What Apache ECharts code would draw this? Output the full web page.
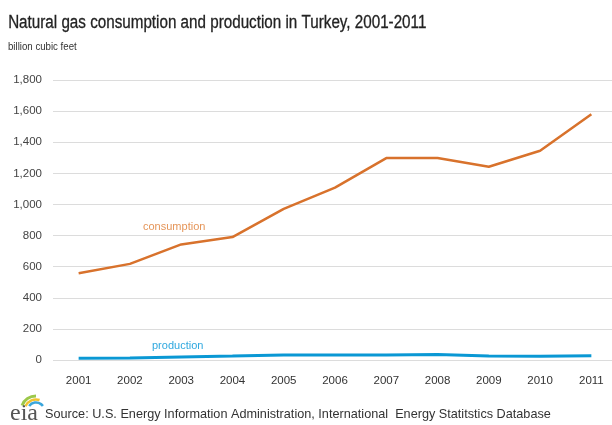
<!DOCTYPE html>
<html>
<head>
<meta charset="utf-8">
<script src="https://cdn.jsdelivr.net/npm/echarts@6/dist/echarts.min.js"></script>
<style>
  html, body { margin: 0; padding: 0; background: #fff; }
  #chart { width: 612px; height: 425px; }
</style>
</head>
<body>
<div id="chart"></div>
<script>
// Turkey natural gas, billion cubic feet
const years = ['2001','2002','2003','2004','2005','2006','2007','2008','2009','2010','2011'];
const consumption = [558, 618, 743, 790, 972, 1108, 1298, 1298, 1242, 1345, 1580];
const production = [12, 13, 20, 25, 32, 32, 32, 36, 25, 24, 27];
const yTicks = [0, 200, 400, 600, 800, 1000, 1200, 1400, 1600, 1800];

const FONT = '"Liberation Sans", Arial, sans-serif';
const chart = echarts.init(document.getElementById('chart'));

chart.setOption({
  backgroundColor: '#ffffff',
  animation: false,
  grid: { left: 53, width: 564, top: 80, bottom: 65, containLabel: false, outerBoundsMode: 'none' },
  xAxis: {
    type: 'category',
    data: years,
    boundaryGap: true,
    axisLine: { show: false },
    axisTick: { show: false },
    axisLabel: { fontFamily: FONT, fontSize: 11.5, color: '#333', margin: 15 }
  },
  yAxis: {
    type: 'value',
    min: yTicks[0], max: yTicks[yTicks.length - 1], interval: 200,
    axisLine: { show: false },
    axisTick: { show: false },
    axisLabel: {
      fontFamily: FONT, fontSize: 11.5, color: '#444', margin: 11,
      formatter: v => v.toLocaleString('en-US')
    },
    splitLine: { lineStyle: { color: '#dcdcdc', width: 1 } }
  },
  series: [
    {
      name: 'consumption',
      type: 'line',
      data: consumption,
      symbol: 'none',
      lineStyle: { color: '#d8722c', width: 2.5 },
      z: 3
    },
    {
      name: 'production',
      type: 'line',
      data: production,
      symbol: 'none',
      lineStyle: { color: '#0a98d4', width: 3 },
      z: 3
    }
  ],
  graphic: [
    // narrow-set headings
    { type: 'text', left: 8, top: 14, scaleX: 0.845,
      style: { text: 'Natural gas consumption and production in Turkey, 2001-2011',
               font: '18px ' + FONT, fill: '#222', stroke: '#222', lineWidth: 0.3 } },
    { type: 'text', left: 8, top: 42, scaleX: 0.92,
      style: { text: 'billion cubic feet', font: '10.5px ' + FONT, fill: '#333' } },
    // in-plot series labels
    { type: 'text', left: 143, top: 221,
      style: { text: 'consumption', font: '11px ' + FONT, fill: '#e59559' } },
    { type: 'text', left: 152, top: 340,
      style: { text: 'production', font: '11px ' + FONT, fill: '#2fa8df' } },
    // eia mark: fan of three swooshes over the wordmark
    { type: 'arc', shape: { cx: 36, cy: 411, r: 15, startAngle: Math.PI * 1.12, endAngle: Math.PI * 1.5 },
      style: { stroke: '#9cc84a', lineWidth: 3, fill: null } },
    { type: 'arc', shape: { cx: 36, cy: 411, r: 11.5, startAngle: Math.PI * 1.14, endAngle: Math.PI * 1.6 },
      style: { stroke: '#f2c230', lineWidth: 2.5, fill: null } },
    { type: 'arc', shape: { cx: 36, cy: 411, r: 8.5, startAngle: Math.PI * 1.2, endAngle: Math.PI * 1.8 },
      style: { stroke: '#3aa6dc', lineWidth: 2.5, fill: null } },
    { type: 'text', left: 10, top: 402,
      style: { text: 'eia', font: '24px "Liberation Serif", "DejaVu Serif", serif', fill: '#555' } },
    { type: 'text', left: 45, top: 408, scaleX: 0.975,
      style: { text: 'Source: U.S. Energy Information Administration, International  Energy Statitstics Database',
               font: '13px ' + FONT, fill: '#333' } }
  ]
});
</script>
</body>
</html>
